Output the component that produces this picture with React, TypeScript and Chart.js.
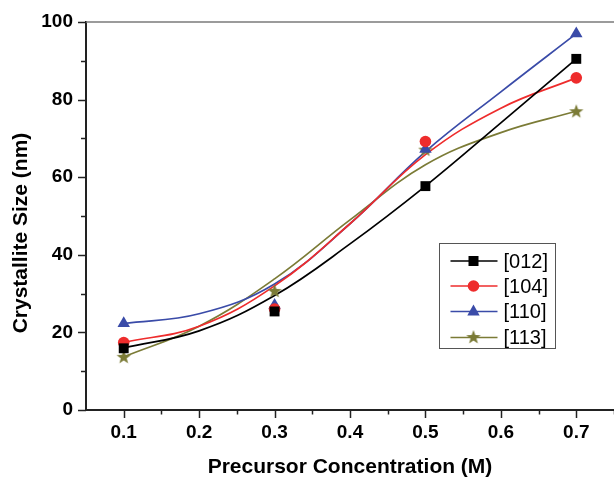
import React, { useEffect, useRef } from "react";
import { Chart, registerables } from "chart.js";

Chart.register(...registerables);

// ---- data ----
const seriesNames = ["[012]", "[104]", "[110]", "[113]"];
const xValues = [0.1, 0.3, 0.5, 0.7];
const s012 = [15.9, 25.4, 57.7, 90.5];
const s104 = [17.4, 26.0, 69.2, 85.6];
const s110 = [22.3, 27.0, 67.2, 97.0];
const s113 = [13.7, 30.7, 67.1, 77.0];

// fitted smooth curves
const fitX = [0.1, 0.2, 0.3, 0.4, 0.5, 0.6, 0.7];
const fit012 = [16.0, 20.4, 29.5, 42.8, 57.7, 74.0, 90.5];
const fit104 = [17.4, 21.6, 32.0, 48.0, 65.8, 77.8, 85.6];
const fit110 = [22.3, 24.8, 32.5, 48.0, 66.6, 82.0, 97.0];
const fit113 = [13.7, 21.6, 33.8, 49.0, 63.2, 71.5, 77.0];

const xTickLabels = [0.1, 0.2, 0.3, 0.4, 0.5, 0.6, 0.7];
const xMinorTicks = [0.15, 0.25, 0.35, 0.45, 0.55, 0.65, 0.75];
const yTickLabels = [0, 20, 40, 60, 80, 100];
const yMinorTicks = [10, 30, 50, 70, 90];

const colors = ["#000000", "#ee2c2c", "#3a4ba8", "#7b7b36"];
const FONT = "'Liberation Sans', Arial, sans-serif";

function makeStar(color: string): HTMLCanvasElement {
  const c = document.createElement("canvas");
  c.width = 16;
  c.height = 16;
  const ctx = c.getContext("2d")!;
  ctx.fillStyle = color;
  ctx.beginPath();
  const cx = 8, cy = 8.5, ro = 7.5, ri = 3.1;
  for (let i = 0; i < 10; i++) {
    const r = i % 2 === 0 ? ro : ri;
    const a = -Math.PI / 2 + (i * Math.PI) / 5;
    const px = cx + r * Math.cos(a);
    const py = cy + r * Math.sin(a);
    if (i === 0) ctx.moveTo(px, py);
    else ctx.lineTo(px, py);
  }
  ctx.closePath();
  ctx.fill();
  return c;
}

export default function App() {
  const ref = useRef<HTMLCanvasElement>(null);

  useEffect(() => {
    if (!ref.current) return;
    const star = makeStar(colors[3]);
    const pointStyles: any[] = ["rect", "circle", "triangle", star];
    const pointRadii = [7, 5.8, 7.2, 7];
    const seriesVals = [s012, s104, s110, s113];
    const fitVals = [fit012, fit104, fit110, fit113];

    const curveSets = fitVals.map((vals, i) => ({
      type: "line" as const,
      label: seriesNames[i] + " fit",
      data: fitX.map((x, j) => ({ x, y: vals[j] })),
      borderColor: colors[i],
      borderWidth: 1.7,
      pointRadius: 0,
      pointHoverRadius: 0,
      tension: 0.4,
      fill: false,
      order: 2,
    }));
    const pointSets = seriesVals.map((vals, i) => ({
      type: "scatter" as const,
      label: seriesNames[i],
      data: xValues.map((x, j) => ({ x, y: vals[j] })),
      backgroundColor: colors[i],
      borderColor: colors[i],
      borderWidth: 0,
      pointStyle: pointStyles[i],
      pointRadius: pointRadii[i],
      showLine: false,
      order: 1,
    }));

    const decor = {
      id: "decor",
      afterDraw(chart: any) {
        const { ctx, chartArea } = chart;
        const xs = chart.scales.x;
        const ys = chart.scales.y;
        ctx.save();
        // top frame line
        ctx.strokeStyle = "#7a7a7a";
        ctx.lineWidth = 1.5;
        ctx.beginPath();
        ctx.moveTo(chartArea.left, chartArea.top);
        ctx.lineTo(chartArea.right, chartArea.top);
        ctx.stroke();
        // tick marks
        ctx.strokeStyle = "#222";
        ctx.lineWidth = 1.5;
        const xt = (v: number, len: number) => {
          const px = Math.round(xs.getPixelForValue(v)) + 0.5;
          ctx.beginPath();
          ctx.moveTo(px, chartArea.bottom);
          ctx.lineTo(px, chartArea.bottom + len);
          ctx.stroke();
        };
        const yt = (v: number, len: number) => {
          const py = Math.round(ys.getPixelForValue(v)) + 0.5;
          ctx.beginPath();
          ctx.moveTo(chartArea.left, py);
          ctx.lineTo(chartArea.left - len, py);
          ctx.stroke();
        };
        xTickLabels.forEach((v) => xt(v, 8));
        xMinorTicks.forEach((v) => xt(v, 4.5));
        yTickLabels.forEach((v) => yt(v, 8));
        yMinorTicks.forEach((v) => yt(v, 5));

        // y axis title
        ctx.save();
        ctx.translate(21, chartArea.top + 211);
        ctx.rotate(-Math.PI / 2);
        ctx.fillStyle = "#000";
        ctx.font = `bold 21px ${FONT}`;
        ctx.textAlign = "center";
        ctx.textBaseline = "middle";
        ctx.fillText("Crystallite Size (nm)", 0, 0);
        ctx.restore();

        // legend
        const bx = chartArea.left + 353.5;
        const by = chartArea.top + 221.5;
        const bw = 116;
        const bh = 105;
        ctx.fillStyle = "#fff";
        ctx.fillRect(bx, by, bw, bh);
        ctx.strokeStyle = "#555";
        ctx.lineWidth = 1;
        ctx.strokeRect(bx, by, bw, bh);
        const rowY = [17.5, 42.5, 68, 94];
        seriesNames.forEach((name, i) => {
          const y = by + rowY[i];
          ctx.strokeStyle = colors[i];
          ctx.lineWidth = 1.7;
          ctx.beginPath();
          ctx.moveTo(bx + 11, y);
          ctx.lineTo(bx + 58, y);
          ctx.stroke();
          const mx = bx + 34;
          ctx.fillStyle = colors[i];
          if (i === 0) {
            ctx.fillRect(mx - 5, y - 5, 10, 10);
          } else if (i === 1) {
            ctx.beginPath();
            ctx.arc(mx, y, 5.8, 0, Math.PI * 2);
            ctx.fill();
          } else if (i === 2) {
            ctx.beginPath();
            ctx.moveTo(mx, y - 7);
            ctx.lineTo(mx + 6.2, y + 4);
            ctx.lineTo(mx - 6.2, y + 4);
            ctx.closePath();
            ctx.fill();
          } else {
            ctx.drawImage(star, mx - 8, y - 8.5);
          }
          ctx.fillStyle = "#000";
          ctx.font = `20px ${FONT}`;
          ctx.textAlign = "left";
          ctx.textBaseline = "middle";
          ctx.fillText(name, bx + 64, y + 1);
        });
        ctx.restore();
      },
    };

    const chart = new Chart(ref.current, {
      type: "scatter",
      data: { datasets: [...pointSets, ...curveSets] as any },
      options: {
        responsive: false,
        animation: false,
        layout: { autoPadding: false, padding: { top: 22, left: 0, right: 0, bottom: 0 } },
        plugins: {
          legend: { display: false },
          tooltip: { enabled: false },
        },
        scales: {
          x: {
            type: "linear",
            min: 0.05,
            max: 0.75,
            afterBuildTicks: (scale: any) => {
              scale.ticks = xTickLabels.map((v) => ({ value: v }));
            },
            afterFit: (scale: any) => {
              scale.height = 67;
              scale.paddingLeft = 0;
              scale.paddingRight = 0;
            },
            grid: { display: false, drawTicks: false },
            border: { display: true, color: "#222", width: 2 },
            ticks: {
              color: "#000",
              padding: 11,
              font: { family: FONT, size: 19, weight: "bold" },
              callback: (v: any) => Number(v).toFixed(1),
            },
            title: {
              display: true,
              text: "Precursor Concentration (M)",
              color: "#000",
              padding: { top: 0, bottom: -1 },
              font: { family: FONT, size: 21, weight: "bold", lineHeight: 1 },
            },
          },
          y: {
            type: "linear",
            min: 0,
            max: 100,
            afterBuildTicks: (scale: any) => {
              scale.ticks = yTickLabels.map((v) => ({ value: v }));
            },
            afterFit: (scale: any) => {
              scale.width = 86;
              scale.paddingTop = 0;
              scale.paddingBottom = 0;
            },
            grid: { display: false, drawTicks: false },
            border: { display: true, color: "#222", width: 2 },
            ticks: {
              color: "#000",
              padding: 13,
              font: { family: FONT, size: 19, weight: "bold" },
              callback: (v: any) => String(v),
            },
          },
        },
      } as any,
      plugins: [decor],
    });
    return () => chart.destroy();
  }, []);

  return (
    <div style={{ position: "fixed", left: 0, top: 0, width: 614, height: 477, background: "#fff" }}>
      <canvas ref={ref} width={614} height={477} style={{ display: "block", width: 614, height: 477 }} />
    </div>
  );
}
